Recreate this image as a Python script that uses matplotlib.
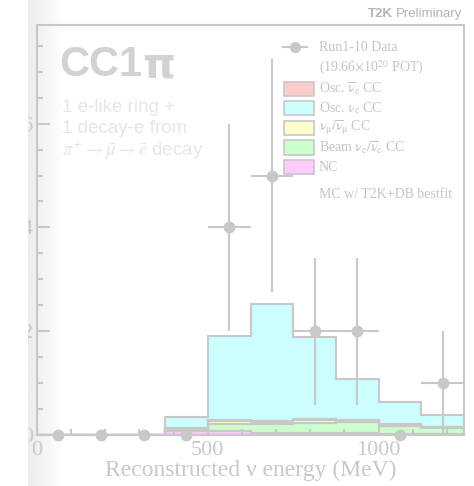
import numpy as np
import matplotlib.pyplot as plt
from matplotlib.patches import Rectangle
from matplotlib.lines import Line2D

# Binning and counts
EDGES = [0, 125, 250, 375, 500, 625, 750, 875, 1000, 1125, 1250]
DATA = [0, 0, 0, 0, 4, 5, 2, 2, 0, 1]

# MC stack, bottom to top
NC = [0, 0, 0, 0.07, 0.07, 0.04, 0.04, 0.03, 0.02, 0.02]
BEAM_NUE = [0, 0, 0, 0.04, 0.15, 0.18, 0.20, 0.22, 0.16, 0.12]
NUMU = [0, 0, 0, 0.01, 0.05, 0.03, 0.04, 0.02, 0.02, 0.01]
OSC_NUEBAR = [0, 0, 0, 0.01, 0.02, 0.02, 0.02, 0.02, 0.01, 0.01]
OSC_NUE = [0, 0, 0, 0.22, 1.61, 2.25, 1.58, 0.79, 0.42, 0.22]

LABELS = [r'Osc. $\overline{\mathrm{\nu}}_{\mathrm{e}}$ CC',
          r'Osc. $\mathrm{\nu}_{\mathrm{e}}$ CC',
          r'$\mathrm{\nu}_{\mathrm{\mu}}/\overline{\mathrm{\nu}}_{\mathrm{\mu}}$ CC',
          r'Beam $\mathrm{\nu}_{\mathrm{e}}/\overline{\mathrm{\nu}}_{\mathrm{e}}$ CC',
          'NC']

GREY = '#c8c8c8'
FILLS = {'nc': '#ffccff', 'beam': '#ccffcc', 'numu': '#ffffcc',
         'oscbar': '#ffcccc', 'osc': '#ccffff'}

W, H = 474, 486

plt.rcParams['font.family'] = ['Liberation Serif', 'DejaVu Serif']
plt.rcParams['mathtext.fontset'] = 'stix'


def fx(px):
    return px / W


def fy(py):
    return 1 - py / H


fig = plt.figure(figsize=(W / 100, H / 100), dpi=100)
fig.patch.set_facecolor('white')

# grey page gradient at the left edge
bg = fig.add_axes([fx(28), 0, fx(36), 1], zorder=-5)
grad = np.linspace(0.925, 1.0, 64).reshape(1, -1)
bg.imshow(grad, cmap='gray', vmin=0, vmax=1, aspect='auto',
          extent=[0, 1, 0, 1])
bg.axis('off')

ax = fig.add_axes([fx(37), fy(435), fx(464 - 37), fy(25) - fy(435)])
ax.set_facecolor('none')

layers = [(NC, 'nc'), (BEAM_NUE, 'beam'), (NUMU, 'numu'),
          (OSC_NUEBAR, 'oscbar'), (OSC_NUE, 'osc')]
bottom = np.zeros(len(DATA))
for vals, key in layers:
    top = bottom + np.array(vals)
    ax.stairs(top, EDGES, baseline=bottom, fill=True, color=FILLS[key],
              zorder=1)
    bottom = top
bottom = np.zeros(len(DATA))
for vals, key in layers:
    top = bottom + np.array(vals)
    ax.stairs(top, EDGES, baseline=bottom, fill=False, color=GREY,
              lw=1.5, zorder=2)
    bottom = top

centers = (np.array(EDGES[:-1]) + np.array(EDGES[1:])) / 2
halfw = np.diff(EDGES) / 2
ax.errorbar(centers, DATA, xerr=halfw, yerr=np.sqrt(DATA), fmt='o',
            color=GREY, ms=7.5, lw=1.5, capsize=0, zorder=4, clip_on=False)

ax.set_xlim(0, 1250)
ax.set_ylim(0, 7.9)
ax.set_xticks([0, 500, 1000])
ax.set_xticks(np.arange(0, 1251, 100), minor=True)
ax.set_yticks([0, 2, 4, 6])
ax.set_yticks(np.arange(0, 7.9, 0.5), minor=True)
ax.tick_params(which='both', direction='in', color=GREY, width=1.5,
               labelcolor=GREY, labelsize=16)
ax.tick_params(which='major', length=9.5)
ax.tick_params(which='minor', length=4.5)
ax.tick_params(axis='y', pad=3)
ax.tick_params(axis='x', pad=4)
for s in ax.spines.values():
    s.set_color(GREY)
    s.set_linewidth(1.5)
    s.set_zorder(5)
ax.set_xlabel(u'Reconstructed \u03bd energy (MeV)', fontsize=17,
              color=GREY, labelpad=0)

# white strip hiding the left edge of the y labels
fig.add_artist(Rectangle((0, 0), fx(28), 1, transform=fig.transFigure,
                         facecolor='white', edgecolor='none', zorder=10))

# sample description
fig.text(fx(59), fy(65), 'CC1', fontsize=30, fontweight='bold',
         color='#d2d2d2', va='center', family='Liberation Sans')
cc = fig.texts[-1]
fig.canvas.draw()
bcc = cc.get_window_extent(fig.canvas.get_renderer())
fig.text(bcc.x1 / W, fy(65), u'\u03c0', fontsize=30, fontweight='bold',
         color='#d2d2d2', va='center', family='DejaVu Sans')
sub = ['1 e-like ring +', '1 decay-e from',
       r'$\pi^{+}\rightarrow\bar{\mu}\rightarrow\bar{e}$ decay']
for i, line in enumerate(sub):
    fig.text(fx(62), fy(107 + 21.5 * i), line, fontsize=13.5,
             color='#e6e6e6', va='center', family='Liberation Sans')

# T2K Preliminary
prelim = fig.text(fx(462), fy(14), 'Preliminary', fontsize=9.5,
                  color='#b4b4b4', ha='right', va='center',
                  family='Liberation Sans')
fig.canvas.draw()
bb = prelim.get_window_extent(fig.canvas.get_renderer())
fig.text(bb.x0 / W - fx(3), fy(14), 'T2K', fontsize=9.5, fontweight='bold',
         color='#b4b4b4', ha='right', va='center', family='Liberation Sans')

# legend
LTXT = '#c4c4c4'
fig.add_artist(Line2D([fx(283), fx(307)], [fy(47), fy(47)], color=GREY,
                      lw=1.5, zorder=6))
fig.add_artist(Line2D([fx(295)], [fy(47)], color=GREY, marker='o', ms=7,
                      zorder=6))
fig.text(fx(319), fy(47), 'Run1-10 Data', fontsize=10, color=LTXT,
         va='center')
fig.text(fx(319), fy(68), r'(19.66$\times$10$^{20}$ POT)', fontsize=10,
         color=LTXT, va='center')
rows = [89, 108.5, 128, 147.5, 167]
keys = ['oscbar', 'osc', 'numu', 'beam', 'nc']
for py, key, lab in zip(rows, keys, LABELS):
    fig.add_artist(Rectangle((fx(284), fy(py + 7)), fx(30), fy(py - 7) - fy(py + 7),
                             transform=fig.transFigure, facecolor=FILLS[key],
                             edgecolor=GREY, lw=1.2, zorder=6))
    fig.text(fx(319), fy(py), lab, fontsize=10, color=LTXT, va='center')
fig.text(fx(319), fy(194), 'MC w/ T2K+DB bestfit', fontsize=10, color=LTXT,
         va='center')

fig.savefig('out.png', dpi=100)
